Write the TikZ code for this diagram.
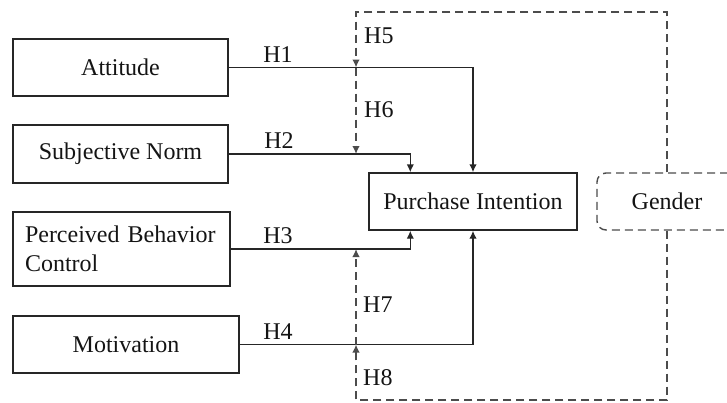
\documentclass[tikz,border=0pt]{standalone}
\usepackage{fontspec}
\setmainfont{Liberation Serif}
\usetikzlibrary{arrows.meta,calc}
\begin{document}
\begin{tikzpicture}[x=1pt,y=-1pt,
  txt/.style={font=\fontsize{24}{29}\selectfont, text=black!92},
  box/.style={txt, draw=black!85, line width=1.4pt, minimum width=215pt, minimum height=57pt, inner sep=0pt},
  gbox/.style={box, draw=black!70, dash pattern=on 8pt off 5pt, rounded corners=9pt, minimum width=140pt},
  rel/.style={draw=black!85, line width=1.4pt, -{Latex[length=8pt,width=7.5pt]}},
  mod/.style={draw=black!70, line width=1.5pt, dash pattern=on 8pt off 5pt, -{Latex[length=8pt,width=7.5pt]}},
  hlab/.style={txt, anchor=base, inner sep=0pt}
]
\useasboundingbox (0,0) rectangle (727,402);
\clip (0,0) rectangle (727,402);

\node[box] (att) at (120.5,67.5) {Attitude};
\node[box, minimum height=58pt] (sub) at (120.5,154) {Subjective Norm};
\node[box, minimum width=217pt, minimum height=74pt, text width=193pt, align=left, inner xsep=12pt] (pbc) at (121.5,249) {Perceived Behavior\\Control};
\node[box, minimum width=226pt] (mot) at (126,344.5) {Motivation};
\node[box, minimum width=208pt] (pi) at (473,201.5) {Purchase Intention};
\node[gbox] (gender) at (667,201.5) {Gender};

\coordinate (tl) at (356,12);
\coordinate (bl) at (356,400);
\coordinate (m1) at (att.east -| tl);
\coordinate (m2) at (sub.east -| tl);
\coordinate (m3) at (pbc.east -| tl);
\coordinate (m4) at (mot.east -| tl);

\draw[rel] (att.east) -| (pi.north);
\draw[rel] (sub.east) -| ($(pi.north west)+(42,0)$);
\draw[rel] (pbc.east) -| ($(pi.south west)+(42,0)$);
\draw[rel] (mot.east) -| (pi.south);

\draw[mod] (gender.north) |- (tl) -- (m1);
\draw[mod] (m1) -- (m2);
\draw[mod] (gender.south) |- (bl) -- (m4);
\draw[mod] (m4) -- (m3);

\node[hlab] (h1) at (278,62.5) {H1};
\node[hlab] (h2) at (279,148.5) {H2};
\node[hlab] (h3) at (278,243) {H3};
\node[hlab] (h4) at (278,339) {H4};
\node[hlab, anchor=base west] (h5) at (364,43) {H5};
\node[hlab, anchor=base west] (h6) at (364,117) {H6};
\node[hlab, anchor=base west] (h7) at (363,312) {H7};
\node[hlab, anchor=base west] (h8) at (363,385) {H8};
\end{tikzpicture}
\end{document}
